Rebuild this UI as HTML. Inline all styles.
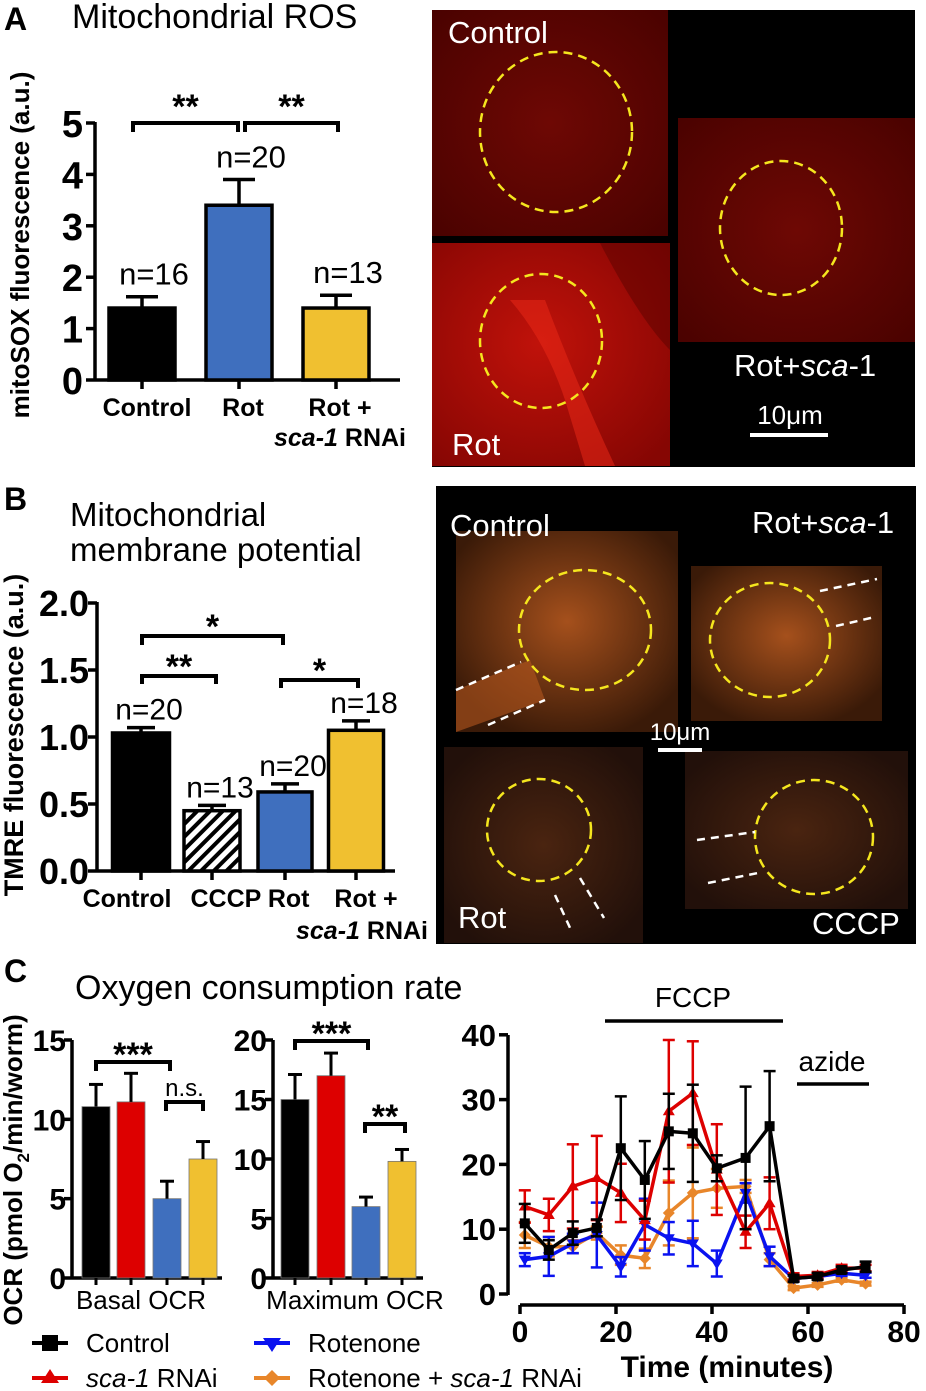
<!DOCTYPE html>
<html><head><meta charset="utf-8"><style>
body{margin:0;background:#fff;}
svg{display:block;font-family:"Liberation Sans",sans-serif;}
</style></head><body>
<svg id="fig" width="926" height="1391" viewBox="0 0 926 1391" xmlns="http://www.w3.org/2000/svg">
<defs>
<pattern id="hatch" width="9" height="9" patternUnits="userSpaceOnUse" patternTransform="rotate(45)"><rect width="9" height="9" fill="#fff"/><rect width="4" height="9" fill="#000"/></pattern>
<radialGradient id="redg" cx="50%" cy="50%" r="70%"><stop offset="0" stop-color="#6e0804"/><stop offset="1" stop-color="#4a0200"/></radialGradient>
<radialGradient id="redg2" cx="45%" cy="45%" r="70%"><stop offset="0" stop-color="#c0120a"/><stop offset="1" stop-color="#860603"/></radialGradient>
<radialGradient id="orng" cx="50%" cy="45%" r="60%"><stop offset="0" stop-color="#a5501c"/><stop offset="1" stop-color="#3a1a08"/></radialGradient>
<radialGradient id="orng2" cx="50%" cy="50%" r="60%"><stop offset="0" stop-color="#4a2410"/><stop offset="1" stop-color="#22100a"/></radialGradient>
</defs>
<g id="layer"></g>
</svg>
<script>
// ---------- Data ----------
const aCats=["Control","Rot","Rot+sca1"];
const aVals=[1.4,3.4,1.4];
const aErr=[0.22,0.5,0.25];
const aN=["n=16","n=20","n=13"];
const aTicks=[0,1,2,3,4,5];
const bCats=["Control","CCCP","Rot","Rot+sca1"];
const bVals=[1.03,0.45,0.59,1.05];
const bErr=[0.04,0.04,0.06,0.07];
const bN=["n=20","n=13","n=20","n=18"];
const bTicks=[0,0.5,1.0,1.5,2.0];
const basalVals=[10.8,11.1,5.0,7.5];
const basalErr=[1.4,1.8,1.1,1.1];
const maxVals=[15,17,6,9.8];
const maxErr=[2.1,1.9,0.8,1.0];
const basalTicks=[0,5,10,15];
const maxTicks=[0,5,10,15,20];
const times=[1,6,11,16,21,26,31,36,41,47,52,57,62,67,72];
const ctrlY=[10.9,6.8,9.4,10.2,22.5,17.6,25.1,24.8,19.4,21,25.9,2.4,2.7,3.7,4.2];
const ctrlE=[3,1.5,1.8,1.3,8,6,5.8,7.5,2,11,8.5,0.5,0.5,0.5,0.8];
const scaY=[13.5,12.2,16.6,17.9,15.6,11.4,28.2,31,19.2,9.6,14,2.7,2.9,4,4];
const scaE=[2.5,2.5,6.5,6.5,4.5,3,11,8,7,2.5,4,0.5,0.5,0.5,0.5];
const rotY=[5.3,5.8,7.8,9.1,4.2,10.7,8.6,7.8,4.7,15.6,5.8,2.4,2.7,3.2,2.9];
const rotE=[1,3,1.5,5,1.5,4,2.5,3.5,2,1.5,1.5,0.4,0.4,0.4,0.4];
const rsY=[9.1,7.3,7.3,9.4,6,5.5,12.5,15.6,16.3,16.6,5.3,0.9,1.4,2.2,1.6];
const rsE=[2,1.5,1,1,1.5,1.5,5,7,3,1,1,0.3,0.3,0.3,0.3];
const tsXTicks=[0,20,40,60,80];
const tsYTicks=[0,10,20,30,40];

const NS="http://www.w3.org/2000/svg";
const L=document.getElementById('layer');
function mk(tag,at,parent){const e=document.createElementNS(NS,tag);for(const k in at)e.setAttribute(k,at[k]);(parent||L).appendChild(e);return e;}
function tx(x,y,s,size,opt){opt=opt||{};const e=mk('text',{x:x,y:y,'font-size':size,'text-anchor':opt.a||'start','font-weight':opt.w||'normal',fill:opt.f||'#000'});if(opt.t)e.setAttribute('transform',opt.t);if(opt.st)e.setAttribute('font-style',opt.st);e.textContent=s;return e;}
function ln(x1,y1,x2,y2,sw,c,da){const e=mk('line',{x1:x1,y1:y1,x2:x2,y2:y2,stroke:c||'#000','stroke-width':sw||3});if(da)e.setAttribute('stroke-dasharray',da);return e;}
function bracket(x1,x2,y,h,label,ly,size){const p=mk('path',{d:`M${x1} ${y+h}V${y}H${x2}V${y+h}`,fill:'none',stroke:'#000','stroke-width':4});


const t=tx((x1+x2)/2,ly,label,size||34,{a:'middle',w:label==='n.s.'?'normal':'bold'});

}

// ---------- Panel letters & titles ----------
let t;
t=tx(4,30,"A",32,{w:'bold'});
t=tx(72,28,"Mitochondrial ROS",34);
t=tx(4,510,"B",32,{w:'bold'});
t=tx(70,526,"Mitochondrial",33);
t=tx(70,561,"membrane potential",33);
t=tx(4,982,"C",32,{w:'bold'});
t=tx(75,999,"Oxygen consumption rate",34);

// ---------- Panel A bar chart ----------
(function(){
const x0=95,y0=380,ppu=51.4;const Y=v=>y0-v*ppu;
const cx=[142,239,336],bw=66,cols=["#000","#3f6fbe","#f0c030"];
ln(x0,Y(5)-1,x0,y0+1.5,3.5);ln(x0,y0,400,y0,3.5);
aTicks.forEach(v=>{ln(x0-9,Y(v),x0,Y(v),3.5);const e=tx(x0-12,Y(v)+14,String(v),38,{a:'end',w:'bold'});});
aVals.forEach((v,i)=>{
 const r=mk('rect',{x:cx[i]-bw/2,y:Y(v),width:bw,height:y0-Y(v),fill:cols[i],stroke:'#000','stroke-width':3.5});
 
 
 ln(cx[i],Y(v),cx[i],Y(v+aErr[i]),3.5);ln(cx[i]-16,Y(v+aErr[i]),cx[i]+16,Y(v+aErr[i]),3.5);
 ln(cx[i],y0,cx[i],y0+9,3.5);
 const n=tx(cx[i]+12,Y(v+aErr[i])-12,aN[i],31,{a:'middle'});
});
let e=tx(147,416,"Control",25,{a:'middle',w:'bold'});
e=tx(243,416,"Rot",25,{a:'middle',w:'bold'});
e=tx(340,416,"Rot +",25,{a:'middle',w:'bold'});
e=mk('text',{x:406,y:446,'font-size':25,'font-weight':'bold','text-anchor':'end'});e.innerHTML='<tspan font-style="italic">sca-1</tspan> RNAi';
e=tx(0,0,"mitoSOX fluorescence (a.u.)",26,{a:'middle',w:'bold',t:'translate(29,245) rotate(-90)'});
bracket(133,238,123,9,"**",118);bracket(245,338,123,9,"**",118);
})();

// ---------- Panel B bar chart ----------
(function(){
const x0=97,y0=871,ppu=134;const Y=v=>y0-v*ppu;
const cx=[141,212,285,356],bw=[57,56,54,55],fills=["#000","url(#hatch)","#3f6fbe","#f0c030"];
ln(x0,Y(2)-1,x0,y0+1.5,3.5);ln(x0,y0,395,y0,3.5);
bTicks.forEach(v=>{ln(x0-9,Y(v),x0,Y(v),3.5);const e=tx(x0-8,Y(v)+13,v.toFixed(1),36,{a:'end',w:'bold'});});
bVals.forEach((v,i)=>{
 const r=mk('rect',{x:cx[i]-bw[i]/2,y:Y(v),width:bw[i],height:y0-Y(v),fill:fills[i],stroke:'#000','stroke-width':3.5});
 
 
 ln(cx[i],Y(v),cx[i],Y(v+bErr[i]),3.5);ln(cx[i]-14,Y(v+bErr[i]),cx[i]+14,Y(v+bErr[i]),3.5);
 ln(cx[i],y0,cx[i],y0+9,3.5);
 const n=tx(cx[i]+8,Y(v+bErr[i])-8,bN[i],30,{a:'middle'});
});
let e=tx(127,907,"Control",25,{a:'middle',w:'bold'});
e=tx(250,907,"CCCP Rot",25,{a:'middle',w:'bold'});
e=tx(366,907,"Rot +",25,{a:'middle',w:'bold'});
e=mk('text',{x:428,y:939,'font-size':25,'font-weight':'bold','text-anchor':'end'});e.innerHTML='<tspan font-style="italic">sca-1</tspan> RNAi';
e=tx(0,0,"TMRE fluorescence (a.u.)",27,{a:'middle',w:'bold',t:'translate(23,735) rotate(-90)'});
bracket(142,283,636,9,"*",638);bracket(142,216,676,8,"**",678);bracket(281,358,680,8,"*",682);
})();

// ---------- Panel C OCR bars ----------
function ocrBars(x0,top,ticks,vals,errs,cx,label,lx){
 const y0=1278,ppu=(y0-1040)/top;const Y=v=>y0-v*ppu;
 const cols=["#000","#dd0000","#3f6fbe","#f0c030"];
 ln(x0,1040,x0,y0+1,3.5);ln(x0,y0,x0+150,y0,3.5);
 ticks.forEach(v=>{ln(x0-8,Y(v),x0,Y(v),3.5);const e=tx(x0-6,Y(v)+11,String(v),30,{a:'end',w:'bold'});});
 vals.forEach((v,i)=>{
  const r=mk('rect',{x:cx[i]-14,y:Y(v),width:28,height:y0-Y(v),fill:cols[i],stroke:'#777','stroke-width':0.8});
  
  
  ln(cx[i],Y(v),cx[i],Y(v+errs[i]),3);ln(cx[i]-7,Y(v+errs[i]),cx[i]+7,Y(v+errs[i]),3);
  ln(cx[i],y0,cx[i],y0+7,3);
 });
 const e=tx(lx,1309,label,26,{a:'middle'});
}
ocrBars(72,15,basalTicks,basalVals,basalErr,[96,131,167,203],"Basal OCR",141);
ocrBars(273,20,maxTicks,maxVals,maxErr,[295,331,366,402],"Maximum OCR",355);
bracket(96,170,1062,9,"***",1066);bracket(166,203,1102,9,"n.s.",1096,24);
bracket(295,368,1041,9,"***",1045);bracket(365,405,1124,9,"**",1128);
t=mk('text',{x:0,y:0,'font-size':26,'font-weight':'bold','text-anchor':'middle',transform:'translate(22,1170) rotate(-90)'});
t.innerHTML='OCR (pmol O<tspan font-size="17" dy="7">2</tspan><tspan dy="-7">/min/worm)</tspan>';


// ---------- Panel C time series ----------
(function(){
const X=m=>520+m*4.8, Y=v=>1294-v*6.48;
ln(508,1035,508,1295,3.5);
ln(520,1305,904,1305,3.5);
tsYTicks.forEach(v=>{ln(499,Y(v),508,Y(v),3.5);const e=tx(496,Y(v)+11,String(v),31,{a:'end',w:'bold'});});
tsXTicks.forEach(v=>{ln(X(v),1305,X(v),1314,3.5);const e=tx(X(v),1342,String(v),30,{a:'middle',w:'bold'});});
let e=tx(727,1377,"Time (minutes)",30,{a:'middle',w:'bold'});
ln(605,1021,783,1021,3.5);e=tx(693,1007,"FCCP",28,{a:'middle'});
ln(797,1084,869,1084,3.5);e=tx(832,1071,"azide",28,{a:'middle'});
const series=[[rsY,rsE,'#e8862a','diamond','series-rotenone-sca1'],[rotY,rotE,'#0a12f0','tri-down','series-rotenone'],[scaY,scaE,'#dd0000','tri-up','series-sca1'],[ctrlY,ctrlE,'#000','square','series-control']];
series.forEach(([ys,es,c,shape,name])=>{
 const g=mk('g',{});
 
 
 times.forEach((m,i)=>{const x=X(m);
  mk('line',{x1:x,y1:Y(ys[i]-es[i]),x2:x,y2:Y(ys[i]+es[i]),stroke:c,'stroke-width':2.5},g);
  mk('line',{x1:x-6,y1:Y(ys[i]+es[i]),x2:x+6,y2:Y(ys[i]+es[i]),stroke:c,'stroke-width':2.5},g);
  mk('line',{x1:x-6,y1:Y(ys[i]-es[i]),x2:x+6,y2:Y(ys[i]-es[i]),stroke:c,'stroke-width':2.5},g);});
 mk('polyline',{points:times.map((m,i)=>X(m)+','+Y(ys[i])).join(' '),fill:'none',stroke:c,'stroke-width':3.5},g);
 times.forEach((m,i)=>{const x=X(m),y=Y(ys[i]);let p;
  if(shape==='square')p=`M${x-5} ${y-5}h10v10h-10z`;
  else if(shape==='tri-up')p=`M${x} ${y-6}l6 10h-12z`;
  else if(shape==='tri-down')p=`M${x} ${y+6}l6 -10h-12z`;
  else p=`M${x} ${y-6}l6 6l-6 6l-6 -6z`;
  mk('path',{d:p,fill:c},g);});
});
})();

// ---------- Legend ----------
(function(){
const items=[["Control","#000","square",50,1343],["sca-1 RNAi","#dd0000","tri-up",50,1378],["Rotenone","#0a12f0","tri-down",272,1343],["Rotenone + sca-1 RNAi","#e8862a","diamond",272,1378]];
items.forEach(([lab,c,sh,x,y])=>{
 const g=mk('g',{});
 
 
 mk('line',{x1:x-18,y1:y,x2:x+18,y2:y,stroke:c,'stroke-width':4},g);
 let p;
 if(sh==='square')p=`M${x-8} ${y-8}h16v16h-16z`;
 else if(sh==='tri-up')p=`M${x} ${y-9}l9 14h-18z`;
 else if(sh==='tri-down')p=`M${x} ${y+9}l9 -14h-18z`;
 else p=`M${x} ${y-8}l8 8l-8 8l-8 -8z`;
 mk('path',{d:p,fill:c},g);
 const t=mk('text',{x:x+36,y:y+9,'font-size':26},g);
 if(lab==="sca-1 RNAi")t.innerHTML='<tspan font-style="italic">sca-1</tspan> RNAi';
 else if(lab.indexOf('sca')>0)t.innerHTML='Rotenone + <tspan font-style="italic">sca-1</tspan> RNAi';
 else t.textContent=lab;
});
})();

// ---------- Microscopy panels ----------
function img(x,y,w,h,fill,name){const r=mk('rect',{x:x,y:y,width:w,height:h,fill:fill});}
function circ(cx,cy,rx,ry){mk('ellipse',{cx:cx,cy:cy,rx:rx,ry:ry,fill:'none',stroke:'#f5e61e','stroke-width':2.5,'stroke-dasharray':'9 6'});}
let r=mk('rect',{x:432,y:10,width:483,height:457,fill:'#000'});
img(432,10,236,226,'url(#redg)','image-control');
img(678,118,237,224,'url(#redg)','image-rot-sca1');
img(432,243,238,223,'url(#redg2)','image-rot');
mk('path',{d:'M510 300 Q545 340 565 400 L585 466 L615 466 Q575 380 545 300 Z',fill:'#ee2a18',opacity:0.5});
mk('path',{d:'M600 243 Q640 320 670 350 L670 243 Z',fill:'#5a0200',opacity:0.5});
circ(556,132,76,80);circ(781,228,61,67);circ(541,341,61,67);
t=tx(448,43,"Control",31,{f:'#fff'});
t=tx(452,455,"Rot",31,{f:'#fff'});
t=mk('text',{x:734,y:376,'font-size':31,fill:'#fff'});t.innerHTML='Rot+<tspan font-style="italic">sca</tspan>-1';
t=tx(790,424,"10μm",26,{a:'middle',f:'#fff'});
ln(750,435,828,435,4,'#fff');

r=mk('rect',{x:436,y:486,width:480,height:458,fill:'#000'});
img(456,531,222,201,'url(#orng)','image-control-tmre');
img(691,566,191,155,'url(#orng)','image-rot-sca1-tmre');
img(444,747,199,196,'url(#orng2)','image-rot-tmre');
img(685,751,223,158,'url(#orng2)','image-cccp-tmre');
mk('path',{d:'M456 690 L530 660 L545 700 L456 732 Z',fill:'#b4561e',opacity:0.6});
circ(585,630,66,60);circ(770,640,60,57);circ(539,830,52,51);circ(814,837,59,57);
[[456,690,521,662],[488,725,545,700],[820,591,877,579],[836,626,875,617],[555,895,571,930],[580,878,604,918],[697,840,755,832],[708,883,758,873]].forEach(a=>ln(a[0],a[1],a[2],a[3],2.5,'#fff','8 6'));
t=tx(450,536,"Control",31,{f:'#fff'});
t=mk('text',{x:752,y:533,'font-size':31,fill:'#fff'});t.innerHTML='Rot+<tspan font-style="italic">sca</tspan>-1';
t=tx(458,928,"Rot",31,{f:'#fff'});
t=tx(812,934,"CCCP",31,{f:'#fff'});
t=tx(680,740,"10μm",24,{a:'middle',f:'#fff'});
ln(658,750,702,750,4,'#fff');
</script>
</body></html>
